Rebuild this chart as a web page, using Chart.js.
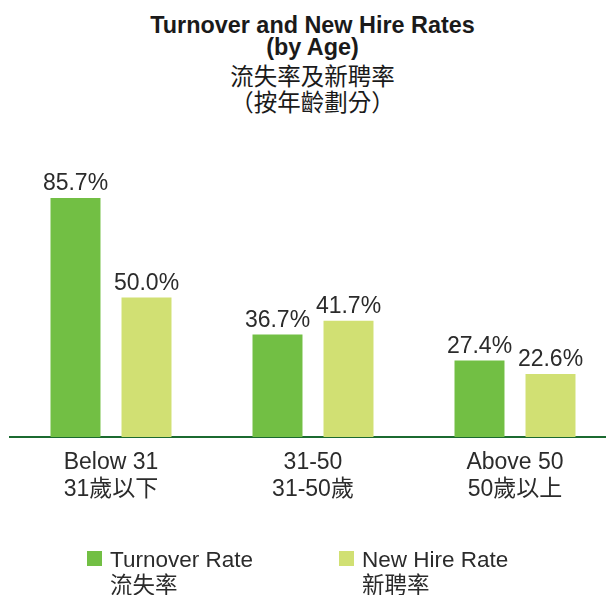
<!DOCTYPE html>
<html>
<head>
<meta charset="utf-8">
<script src="https://cdn.jsdelivr.net/npm/chart.js@4/dist/chart.umd.min.js"></script>
<style>
  body { margin: 0; width: 606px; height: 595px; overflow: hidden; background: #fff; position: relative; }
  #wrap { position: absolute; left: 0; top: 0; width: 616px; height: 595px; }
  .title { position: absolute; left: 0; width: 625px; text-align: center; color: #1a1a1a; }
  #titleEn { top: 14px; font: bold 23.4px "Liberation Sans", Arial, sans-serif; line-height: 22px; }
  #titleZh { top: 62px; font: 23.5px "Noto Sans CJK TC", sans-serif; line-height: 26px; }
  .leg { position: absolute; top: 549px; }
  .leg .box { position: absolute; left: 0; top: 2px; width: 15px; height: 15px; }
  .leg .txt { position: absolute; left: 23px; top: 0; white-space: nowrap; color: #2b2b2b; }
  .leg .en { font: 22.5px "Liberation Sans", Arial, sans-serif; line-height: 22px; }
  .leg .zh { font: 22.5px "Noto Sans CJK TC", sans-serif; line-height: 24px; }
</style>
</head>
<body>
<div id="titleEn" class="title">Turnover and New Hire Rates<br>(by Age)</div>
<div id="titleZh" class="title">流失率及新聘率<br>（按年齡劃分）</div>
<div id="wrap"><canvas id="chart" width="616" height="595"></canvas></div>
<div id="legend"></div>
<script>
const categories = [["Below 31", "31歲以下"], ["31-50", "31-50歲"], ["Above 50", "50歲以上"]];
const seriesNames = ["Turnover Rate", "New Hire Rate"];
const seriesNamesZh = ["流失率", "新聘率"];
const turnoverRate = [85.7, 36.7, 27.4];
const newHireRate = [50.0, 41.7, 22.6];
const colors = ["#72bf44", "#d1e073"];

const valueLabels = {
  id: "valueLabels",
  afterDatasetsDraw(chart) {
    const ctx = chart.ctx;
    ctx.save();
    ctx.font = '23px "Liberation Sans", Arial, sans-serif';
    ctx.fillStyle = "#2b2b2b";
    ctx.textAlign = "center";
    ctx.textBaseline = "alphabetic";
    chart.data.datasets.forEach((ds, i) => {
      chart.getDatasetMeta(i).data.forEach((bar, j) => {
        ctx.fillText(ds.data[j].toFixed(1) + "%", bar.x, bar.y - 8);
      });
    });
    ctx.restore();
  }
};

const chart = new Chart(document.getElementById("chart").getContext("2d"), {
  type: "bar",
  data: {
    labels: categories,
    datasets: [
      { label: seriesNames[0], data: turnoverRate, backgroundColor: colors[0] },
      { label: seriesNames[1], data: newHireRate, backgroundColor: colors[1] }
    ]
  },
  options: {
    responsive: false,
    animation: false,
    layout: { padding: { left: 10, right: 0, top: 158, bottom: 0 } },
    categoryPercentage: 0.703,
    barPercentage: 0.704,
    plugins: { legend: { display: false }, title: { display: false }, tooltip: { enabled: false } },
    scales: {
      y: { display: false, min: 0, max: 100 },
      x: {
        grid: { display: false, drawTicks: false },
        border: { display: true, color: "#1b6a30", width: 2 },
        ticks: {
          padding: 12,
          color: "#2b2b2b",
          font: { family: '"Liberation Sans", "Noto Sans CJK TC", sans-serif', size: 23, lineHeight: 1.17 }
        },
        afterFit(scale) { scale.height = 158; }
      }
    }
  },
  plugins: [valueLabels]
});

const legendEl = document.getElementById("legend");
const legendLeft = [87, 339];
chart.data.datasets.forEach((ds, i) => {
  const item = document.createElement("div");
  item.className = "leg";
  item.style.left = legendLeft[i] + "px";
  item.innerHTML = `<div class="box" style="background:${ds.backgroundColor}"></div>` +
    `<div class="txt"><div class="en">${ds.label}</div><div class="zh">${seriesNamesZh[i]}</div></div>`;
  legendEl.appendChild(item);
});
</script>
</body>
</html>
